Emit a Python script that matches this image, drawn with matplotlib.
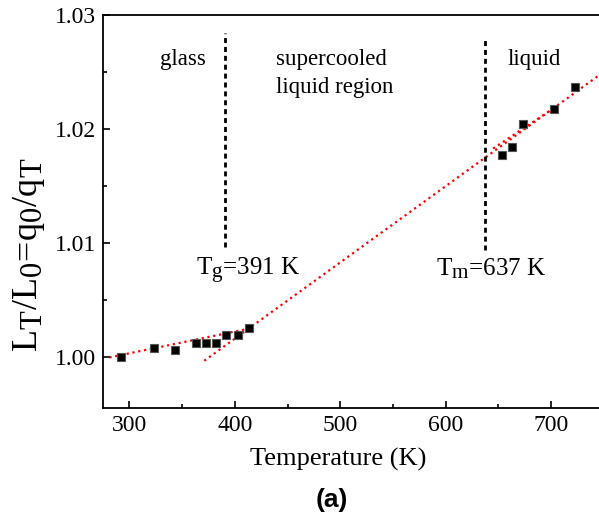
import matplotlib
matplotlib.use('Agg')
import numpy as np
from matplotlib import pyplot as plt
from matplotlib.ticker import MultipleLocator
import matplotlib._mathtext as mathtext_internals

# measured points
temps = [292, 323, 343, 363, 373, 382, 392, 403, 413,
         653, 663, 673, 703, 723]
ratios = [1.0000, 1.0008, 1.0006, 1.0012, 1.0012, 1.0012, 1.0019, 1.0019, 1.0025,
          1.0177, 1.0184, 1.0204, 1.0217, 1.0237]

# fitted lines (end points)
glass_fit_t = [281, 413]
glass_fit_y = [0.99994, 1.00246]
scl_fit_t = [371, 750]
scl_fit_y = [0.99965, 1.02500]
liq_fit_t = [645, 703]
liq_fit_y = [1.01827, 1.02184]

tg = 391
tm = 637

# subscripts in the original are nearly full size
mathtext_internals.SHRINK_FACTOR = 0.85

plt.rcParams['font.family'] = ['Liberation Serif', 'DejaVu Serif']
plt.rcParams['mathtext.fontset'] = 'custom'
plt.rcParams['mathtext.rm'] = 'Liberation Serif'
plt.rcParams['mathtext.it'] = 'Liberation Serif'

fig = plt.figure(figsize=(5.99, 5.12), dpi=100)
ax = fig.add_axes([0.172, 0.203, 0.836, 0.768])

ax.plot(glass_fit_t, glass_fit_y, linestyle=':', color='red', linewidth=1.6)
ax.plot(scl_fit_t, scl_fit_y, linestyle=':', color='red', linewidth=1.6)
ax.plot(liq_fit_t, liq_fit_y, linestyle=':', color='red', linewidth=1.6)
ax.plot(temps, ratios, linestyle='none', marker='s', markersize=6,
        markerfacecolor='black', markeredgecolor='#555555', markeredgewidth=0.8, zorder=3)

ax.plot([tg, tg], [1.0096, 1.0284], color='black', linewidth=2.0, dashes=(1.8, 1.4))
ax.plot([tm, tm], [1.0094, 1.0281], color='black', linewidth=2.0, dashes=(1.8, 1.4))

ax.text(351, 1.0261, 'glass', fontsize=16.5, ha='center', va='center')
ax.text(439, 1.0261, 'supercooled', fontsize=16.5, ha='left', va='center')
ax.text(439, 1.0236, 'liquid region', fontsize=16.5, ha='left', va='center')
ax.text(659, 1.0261, 'liquid', fontsize=16.5, ha='left', va='center')
ax.text(363, 1.0075, r'T$_{\mathrm{g}}$=391 K', fontsize=18, ha='left', va='center')
ax.text(591, 1.0077, r'T$_{\mathrm{m}}$=637 K', fontsize=18, ha='left', va='center')

ax.set_xlim(275, 750)
ax.set_ylim(0.9955, 1.03)
ax.xaxis.set_major_locator(MultipleLocator(100))
ax.xaxis.set_minor_locator(MultipleLocator(50))
ax.yaxis.set_major_locator(MultipleLocator(0.01))
ax.yaxis.set_minor_locator(MultipleLocator(0.005))
ax.yaxis.set_major_formatter(plt.FormatStrFormatter('%.2f'))
ax.tick_params(which='both', direction='in', labelsize=17, width=1.2)
ax.tick_params(which='major', length=5, pad=5)
ax.tick_params(which='minor', length=3)
for s in ax.spines.values():
    s.set_linewidth(1.3)

ax.set_xlabel('Temperature (K)', fontsize=19)
ax.xaxis.set_label_coords(0.469, -0.102)
ax.set_ylabel(r'L$_{\mathrm{T}}$/L$_{\mathrm{0}}$=q$_{\mathrm{0}}$/q$_{\mathrm{T}}$', fontsize=26)
ax.yaxis.set_label_coords(-0.112, 0.39)

fig.text(0.554, 0.024, '(a)', fontsize=19, fontweight='bold', family='Liberation Sans',
         ha='center', va='center')

fig.savefig('out.png', dpi=100)
